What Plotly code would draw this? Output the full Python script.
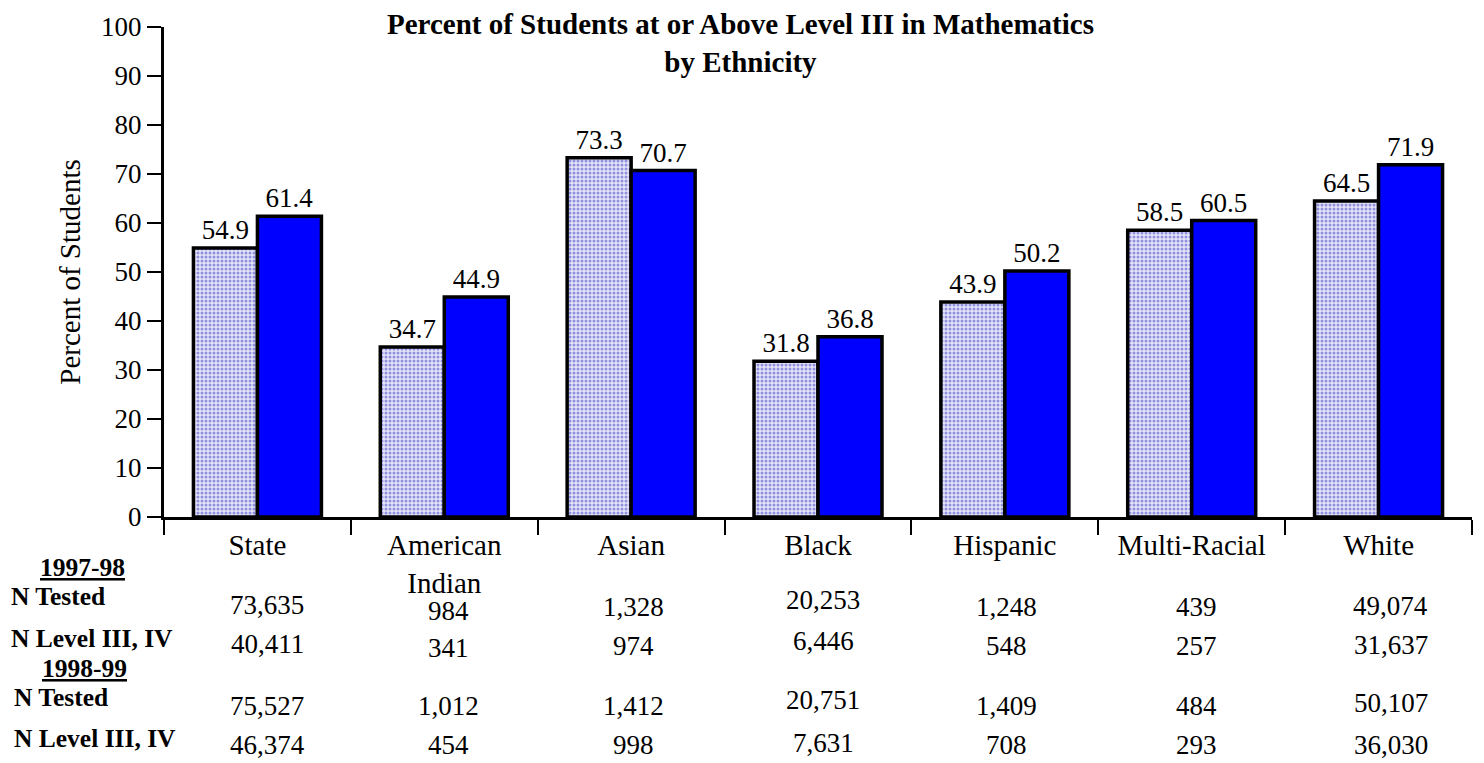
import plotly.graph_objects as go

categories = ["State", "American<br>Indian", "Asian", "Black", "Hispanic", "Multi-Racial", "White"]
pct_1997_98 = [54.9, 34.7, 73.3, 31.8, 43.9, 58.5, 64.5]
pct_1998_99 = [61.4, 44.9, 70.7, 36.8, 50.2, 60.5, 71.9]

n_tested_9798 = ["73,635", "984", "1,328", "20,253", "1,248", "439", "49,074"]
n_level_9798 = ["40,411", "341", "974", "6,446", "548", "257", "31,637"]
n_tested_9899 = ["75,527", "1,012", "1,412", "20,751", "1,409", "484", "50,107"]
n_level_9899 = ["46,374", "454", "998", "7,631", "708", "293", "36,030"]

title_text = "Percent of Students at or Above Level III in Mathematics<br>by Ethnicity"
y_title = "Percent of Students"

W, H = 1484, 763
L, R, T, B = 164, 12, 20, 246
PW, PH = W - L - R, H - T - B


def px_x(x):
    return (x - L) / PW


def px_y(y):
    return (H - B - y) / PH


FF = "Liberation Serif, Times New Roman, serif"

fig = go.Figure()
fig.add_trace(go.Bar(
    x=categories, y=pct_1997_98, name="1997-98",
    marker=dict(color="white",
                line=dict(color="black", width=3.5),
                pattern=dict(shape=".", fgcolor="#3a3ac8", bgcolor="#e4e4f6", size=4, solidity=0.45)),
    text=[f"{v:.1f}" for v in pct_1997_98], textposition="outside",
    textfont=dict(size=27, color="black", family=FF), cliponaxis=False,
))
fig.add_trace(go.Bar(
    x=categories, y=pct_1998_99, name="1998-99",
    marker=dict(color="#0000ff", line=dict(color="black", width=3.5)),
    text=[f"{v:.1f}" for v in pct_1998_99], textposition="outside",
    textfont=dict(size=27, color="black", family=FF), cliponaxis=False,
))

annotations = [dict(text=f"<b>{title_text}</b>", xref="paper", yref="paper",
                    x=px_x(740), y=px_y(36), xanchor="center", yanchor="middle",
                    showarrow=False, font=dict(size=29, family=FF, color="black"))]

row_labels = [
    ("<b><u>1997-98</u></b>", 82, 568, "center"),
    ("<b>N Tested</b>", 9, 598, "left"),
    ("<b>N Level III, IV</b>", 9, 640, "left"),
    ("<b><u>1998-99</u></b>", 84, 671, "center"),
    ("<b>N Tested</b>", 12, 700, "left"),
    ("<b>N Level III, IV</b>", 12, 742, "left"),
]
for txt, x, y, anc in row_labels:
    annotations.append(dict(text=txt, xref="paper", yref="paper", x=px_x(x), y=px_y(y),
                            xanchor=anc, yanchor="middle", showarrow=False,
                            font=dict(size=25.5, family=FF, color="black")))

# layout: pixel row centres per column, and small horizontal nudges
row_y = [
    [606, 612, 608, 601, 608, 608, 607],
    [646, 650, 648, 643, 648, 648, 647],
    [709, 709, 709, 703, 709, 709, 706],
    [748, 748, 748, 746, 748, 748, 748],
]
col_dx = [10, 4, 2, 5, 2, 5, 12]
for r, vals in enumerate([n_tested_9798, n_level_9798, n_tested_9899, n_level_9899]):
    for i, v in enumerate(vals):
        annotations.append(dict(text=v, xref="x", yref="paper", x=i, y=px_y(row_y[r][i]),
                                xshift=col_dx[i], xanchor="center", yanchor="middle",
                                showarrow=False, font=dict(size=27, family=FF, color="black")))

fig.update_layout(
    width=W, height=H,
    margin=dict(l=L, r=R, t=T, b=B),
    paper_bgcolor="white", plot_bgcolor="white",
    barmode="group", bargap=0.315, bargroupgap=0,
    showlegend=False,
    font=dict(family=FF, color="black"),
    annotations=annotations,
    xaxis=dict(showline=True, linecolor="black", linewidth=3, ticks="outside", tickson="boundaries",
               ticklen=15, tickwidth=2, tickcolor="black", showgrid=False,
               tickfont=dict(size=29, family=FF, color="black")),
    yaxis=dict(range=[0, 100], dtick=10, showline=True, linecolor="black", linewidth=3,
               ticks="outside", ticklen=14, tickwidth=2, tickcolor="black", showgrid=False,
               zeroline=False, tickfont=dict(size=27, family=FF, color="black"),
               title=dict(text=y_title, font=dict(size=29, family=FF, color="black"),
                          standoff=12)),
)

fig.write_html("out.html", config={"displayModeBar": False},
               post_script="document.body.style.margin='0';document.body.style.overflow='hidden';")
